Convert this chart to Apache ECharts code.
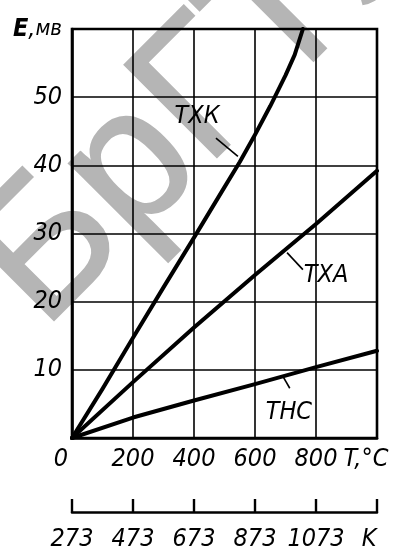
<!DOCTYPE html>
<html>
<head>
<meta charset="utf-8">
<script src="https://cdn.jsdelivr.net/npm/echarts@6/dist/echarts.min.js"></script>
<style>html,body{margin:0;padding:0;background:#fff;}#c{width:395px;height:552px;}</style>
</head>
<body>
<div id="c"></div>
<script>
// Temperature ticks (°C) and Kelvin offset
const tempTicks = [0, 200, 400, 600, 800, 1000];
const kelvinOffset = 273;
// EMF curves: [T °C, E mV]
const txk = [[0,0],[100,7.2],[200,14.7],[300,22.1],[400,29.4],[500,36.8],[550,40.5],[600,44.5],[650,48.7],[700,53.2],[730,56.2],[757,60]];
const txa = [[0,0],[200,8.2],[400,16.2],[600,23.9],[800,31.4],[1000,39.2]];
const thc = [[0,0],[200,3.0],[400,5.5],[600,7.9],[800,10.4],[1000,12.8]];
// Curve labels and leader lines (data coords)
const curveLabels = [
  {name:'ТХК', at:[410,47.1], lead:[[472,44.0],[544,41.3]]},
  {name:'ТХА', at:[833,23.8], lead:[[705,27.2],[757,24.7]]},
  {name:'ТНС', at:[711,3.8], lead:[[692,9.0],[714,7.3]]}
];
const watermark = 'БрГТУ';

const FF = '"Liberation Sans Narrow","DejaVu Sans Condensed","Liberation Sans",sans-serif';
const chart = echarts.init(document.getElementById('c'), null, {renderer:'canvas'});
const lineW = 4;
function curve(data, idx){
  const s = {
    type:'line', data:data, showSymbol:false, symbol:'none', smooth:false,
    lineStyle:{color:'#000', width:lineW, join:'round', cap:'round'}, z:5, animation:false
  };
  const lab = curveLabels[idx];
  s.markPoint = {symbol:'circle', symbolSize:0, animation:false,
    label:{show:true, formatter:lab.name, color:'#000', fontFamily:FF, fontStyle:'italic', fontSize:25, position:'inside'},
    data:[{coord:lab.at}]};
  s.markLine = {symbol:['none','none'], silent:true, animation:false, label:{show:false},
    lineStyle:{color:'#000', width:1.6, type:'solid'},
    data:[[{coord:lab.lead[0]},{coord:lab.lead[1]}]]};
  return s;
}
const axLine = {show:true, lineStyle:{color:'#000', width:2.6}};
const split = {show:true, lineStyle:{color:'#000', width:1.6}};
chart.setOption({
  backgroundColor:'#fff',
  animation:false,
  graphic:[{type:'text', x:6, y:294, rotation:Math.PI/4, z:-100, silent:true,
    style:{x:0, y:0, text:watermark, font:'190px "Liberation Sans"', fill:'#b5b5b5', stroke:'#b5b5b5', lineWidth:2,
      textAlign:'left', textVerticalAlign:'middle', align:'left', verticalAlign:'middle'}}],
  grid:{left:72, top:29, right:18, bottom:110, show:true, borderColor:'#000', borderWidth:2.6, backgroundColor:'transparent'},
  xAxis:[{
    type:'value', min:tempTicks[0], max:tempTicks[tempTicks.length-1], interval:200, position:'bottom',
    axisLine:axLine, axisTick:{show:false}, splitLine:split,
    axisLabel:{margin:9, color:'#000', fontFamily:FF, fontStyle:'italic', fontSize:25,
      formatter:function(v){ if(v===0) return '{z|0}'; if(v===1000) return '{t|T,°C}'; return String(v);},
      rich:{z:{padding:[0,22,0,0], fontFamily:FF, fontStyle:'italic', fontSize:25, color:'#000'},
            t:{padding:[0,22,0,0], fontFamily:FF, fontStyle:'italic', fontSize:25, color:'#000'}}}
  },{
    type:'value', min:tempTicks[0], max:tempTicks[tempTicks.length-1], interval:200, position:'bottom', offset:74,
    axisLine:axLine, axisTick:{show:true, inside:true, length:13, lineStyle:{color:'#000', width:2.4}}, splitLine:{show:false},
    axisLabel:{margin:15, color:'#000', fontFamily:FF, fontStyle:'italic', fontSize:25,
      formatter:function(v){ if(v===1000) return '{k|K}'; return String(v+kelvinOffset);},
      rich:{k:{padding:[0,16,0,0], fontFamily:FF, fontStyle:'italic', fontSize:25, color:'#000'}}}
  }],
  yAxis:{
    type:'value', min:0, max:60, interval:10,
    axisLine:axLine, axisTick:{show:false}, splitLine:split,
    axisLabel:{margin:10, color:'#000', fontFamily:FF, fontStyle:'italic', fontSize:25,
      formatter:function(v){ if(v===0) return ''; if(v===60) return '{e|E},{m|мв}'; return String(v);},
      rich:{e:{fontFamily:FF, fontStyle:'italic', fontWeight:'bold', fontSize:25, color:'#000'},
            m:{fontFamily:FF, fontStyle:'italic', fontSize:22, color:'#000'}}}
  },
  series:[curve(txk,0), curve(txa,1), curve(thc,2)]
});
</script>
</body>
</html>
